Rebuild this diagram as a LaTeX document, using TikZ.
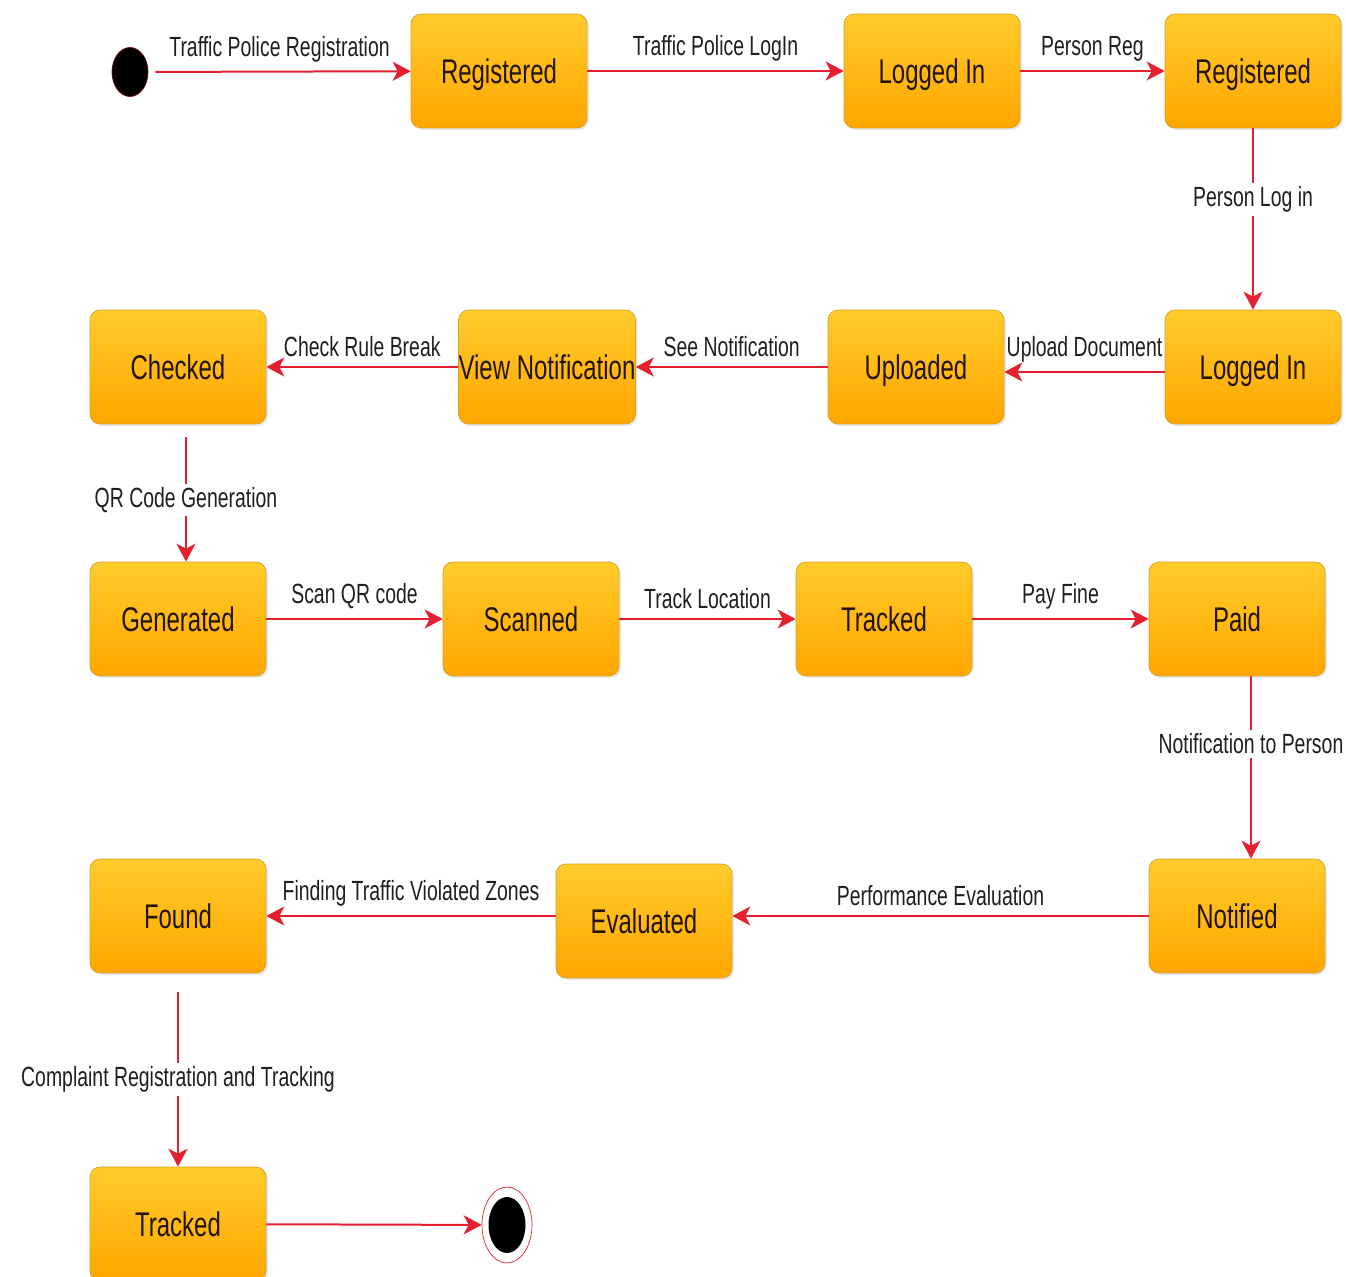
\documentclass[tikz,border=0pt]{standalone}
\usepackage{fontspec}
\newfontfamily\tagfont[FakeStretch=0.70]{Liberation Sans}
\usetikzlibrary{arrows.meta,shapes.geometric,shadows}
\definecolor{statetop}{RGB}{255,204,44}
\definecolor{statebot}{RGB}{255,166,0}
\definecolor{stateline}{RGB}{214,160,36}
\definecolor{flowred}{RGB}{228,32,48}
\definecolor{inktext}{RGB}{36,20,6}
\tikzset{
    state/.style={rectangle,rounded corners=0.2cm,draw=stateline,thin,top color=statetop,bottom color=statebot,minimum width=3.52cm,minimum height=2.28cm,inner sep=0pt,text depth=0pt,font=\tagfont\fontsize{19.5}{22}\selectfont,text=inktext,drop shadow={opacity=0.18,shadow xshift=0.04cm,shadow yshift=-0.04cm}},
    flow/.style={draw=flowred,line width=0.04cm,-{Stealth[length=0.36cm,width=0.38cm,inset=0.1cm]}},
    tag/.style={font=\tagfont\fontsize{15.8}{18}\selectfont,text=black!88,inner sep=1pt},
    vtag/.style={tag,fill=white,inner sep=2pt},
    dot/.style={ellipse,fill=black,inner sep=0pt},
}
\begin{document}
\begin{tikzpicture}[x=0.02cm,y=-0.02cm]
    \useasboundingbox (0,0) rectangle (1346,1277);
    \node[dot,draw=black!60!red,minimum width=0.72cm,minimum height=0.98cm] (start) at (130,72) {};
    \node[state] (register1) at (499,71) {Registered};
    \node[state] (login1) at (932,71) {Logged In};
    \node[state] (register2) at (1253,71) {Registered};
    \node[state] (login2) at (1253,367) {Logged In};
    \node[state] (upload) at (916,367) {Uploaded};
    \node[state] (viewnote) at (547,367) {View Notification};
    \node[state] (check) at (178,367) {Checked};
    \node[state] (generate) at (178,619) {Generated};
    \node[state] (scan) at (531,619) {Scanned};
    \node[state] (track1) at (884,619) {Tracked};
    \node[state] (pay) at (1237,619) {Paid};
    \node[state] (notify) at (1237,916) {Notified};
    \node[state] (evaluate) at (644,921) {Evaluated};
    \node[state] (found) at (178,916) {Found};
    \node[state] (track2) at (178,1224) {Tracked};
    \node[ellipse,draw=flowred,fill=white,thin,minimum width=1.0cm,minimum height=1.52cm] (stop) at (507,1225) {};
    \node[dot,minimum width=0.74cm,minimum height=1.12cm] (stopdot) at (stop) {};
    \draw[flow,shorten <=0.14cm] (start) -- node[tag,above=4pt] {Traffic Police Registration} (register1);
    \draw[flow] (register1) -- node[tag,above=4pt] {Traffic Police LogIn} (login1);
    \draw[flow] (login1) -- node[tag,above=4pt] {Person Reg} (register2);
    \draw[flow] (register2) -- node[vtag,pos=0.39] {Person Log in} (login2);
    \draw[flow] ([yshift=-0.1cm]login2.west) -- node[tag,above=4pt] {Upload Document} ([yshift=-0.1cm]upload.east);
    \draw[flow] (upload) -- node[tag,above=4pt] {See Notification} (viewnote);
    \draw[flow] (viewnote) -- node[tag,above=4pt] {Check Rule Break} (check);
    \draw[flow,shorten <=0.26cm] ([xshift=0.16cm]check.south) -- node[vtag,pos=0.55] {QR Code Generation} ([xshift=0.16cm]generate.north);
    \draw[flow] (generate) -- node[tag,above=4pt] {Scan QR code} (scan);
    \draw[flow] (scan) -- node[tag,above=4pt] {Track Location} (track1);
    \draw[flow] (track1) -- node[tag,above=4pt] {Pay Fine} (pay);
    \draw[flow] ([xshift=0.28cm]pay.south) -- node[vtag,pos=0.37] {Notification to Person} ([xshift=0.28cm]notify.north);
    \draw[flow] (notify.west) -- node[tag,above=4pt] {Performance Evaluation} (notify.west -| evaluate.east);
    \draw[flow] (evaluate.west |- found.east) -- node[tag,above=4pt] {Finding Traffic Violated Zones} (found.east);
    \draw[flow,shorten <=0.38cm] (found) -- node[vtag,pos=0.55] {Complaint Registration and Tracking} (track2);
    \draw[flow] (track2) -- (stop);
\end{tikzpicture}
\end{document}
